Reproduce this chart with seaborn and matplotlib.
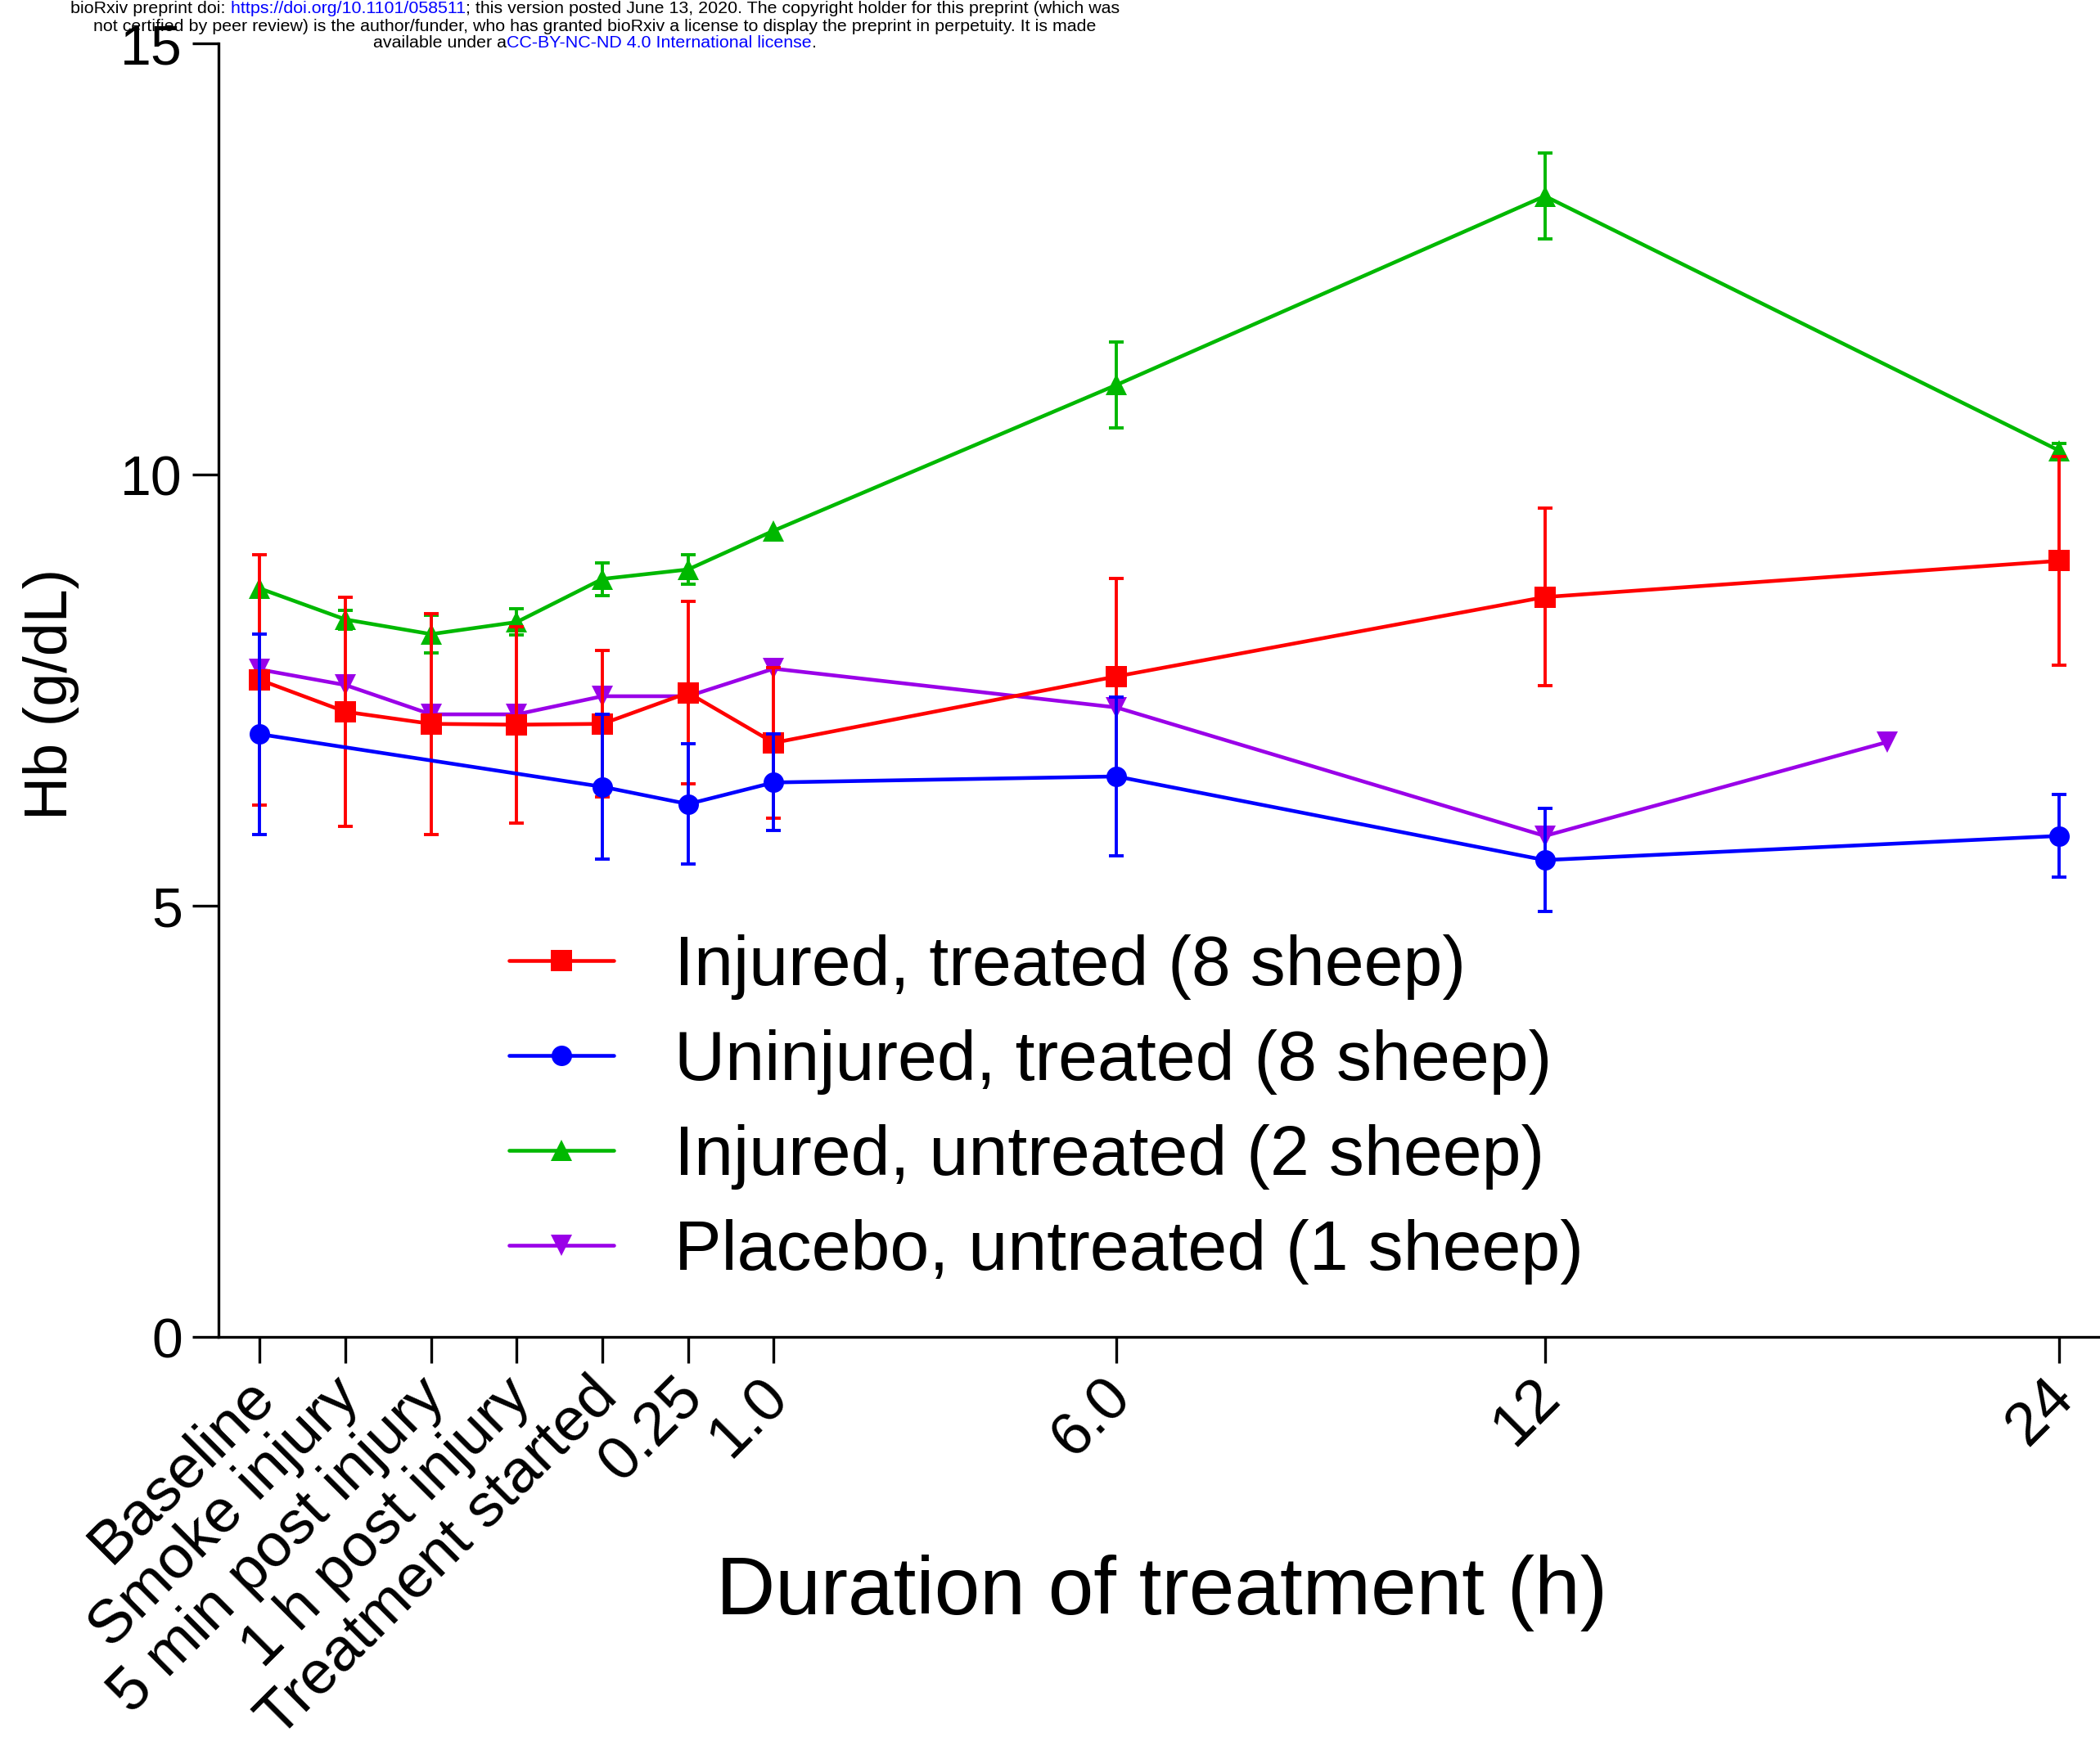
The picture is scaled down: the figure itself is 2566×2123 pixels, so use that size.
import numpy as np
import pandas as pd
import matplotlib
matplotlib.use("Agg")
import matplotlib.pyplot as plt
from matplotlib.transforms import ScaledTranslation
import seaborn as sns

# ---- data: haemoglobin (g/dL), mean and error per time point ----
tick_positions = [0, 1, 2, 3, 4, 5, 6, 10, 15, 21]
tick_labels = ["Baseline", "Smoke injury", "5 min post injury", "1 h post injury",
               "Treatment started", "0.25", "1.0", "6.0", "12", "24"]

injured_treated_x = [0, 1, 2, 3, 4, 5, 6, 10, 15, 21]
injured_treated_mean = [7.62, 7.25, 7.11, 7.10, 7.11, 7.47, 6.89, 7.66, 8.58, 9.00]
injured_treated_err = [1.45, 1.33, 1.28, 1.14, 0.85, 1.06, 0.87, 1.14, 1.03, 1.21]

uninjured_treated_x = [0, 4, 5, 6, 10, 15, 21]
uninjured_treated_mean = [6.99, 6.38, 6.18, 6.43, 6.50, 5.53, 5.81]
uninjured_treated_err = [1.16, 0.84, 0.70, 0.56, 0.92, 0.60, 0.48]

injured_untreated_x = [0, 1, 2, 3, 4, 5, 6, 10, 15, 21]
injured_untreated_mean = [8.68, 8.32, 8.15, 8.29, 8.79, 8.90, 9.35, 11.04, 13.23, 10.28]
injured_untreated_err = [np.nan, 0.11, 0.22, 0.15, 0.19, 0.17, np.nan, 0.50, 0.50, 0.08]

placebo_x = [0, 1, 2, 3, 4, 5, 6, 10, 15, 19]
placebo_mean = [7.74, 7.56, 7.22, 7.22, 7.43, 7.43, 7.75, 7.30, 5.81, 6.90]

series = [
    ("Injured, treated (8 sheep)", injured_treated_x, injured_treated_mean,
     injured_treated_err, "#FF0000", "s", 19, 2.3),
    ("Uninjured, treated (8 sheep)", uninjured_treated_x, uninjured_treated_mean,
     uninjured_treated_err, "#0000FF", "o", 18, 2.4),
    ("Injured, untreated (2 sheep)", injured_untreated_x, injured_untreated_mean,
     injured_untreated_err, "#00B800", "^", 19, 2.1),
    ("Placebo, untreated (1 sheep)", placebo_x, placebo_mean,
     None, "#9A00E8", "v", 19, 2.2),
]

# ---- style ----
sns.set_theme(style="ticks")
plt.rcParams["font.family"] = ["Liberation Sans", "DejaVu Sans"]
plt.rcParams.update({
    "axes.linewidth": 2.4,
    "text.color": "black",
    "axes.labelcolor": "black",
    "xtick.color": "black",
    "ytick.color": "black",
    "axes.edgecolor": "black",
})

W, H = 2566, 2123
fig = plt.figure(figsize=(W / 100, H / 100), dpi=100)
fig.patch.set_facecolor("white")
ax = fig.add_axes([0.1041, 0.2303, 0.8959, 0.7447])
ax.set_facecolor("white")

for name, xs, ys, errs, color, marker, msize, z in series:
    df = pd.DataFrame({"time": xs, "hb": ys})
    if errs is not None:
        ax.errorbar(xs, ys, yerr=errs, fmt="none", ecolor=color,
                    elinewidth=2.8, capsize=6.5, capthick=2.8, zorder=z - 0.05)
    sns.lineplot(data=df, x="time", y="hb", ax=ax, color=color, marker=marker,
                 markersize=msize, markeredgewidth=0, linewidth=3.3,
                 estimator=None, errorbar=None, label=name, zorder=z)

# ---- axes ----
ax.set_xlim(-0.48, 21.48)
ax.set_ylim(0, 15)
ax.set_yticks([0, 5, 10, 15])
ax.set_xticks(tick_positions)
ax.set_xticklabels(tick_labels, rotation=45, ha="right", va="top",
                   rotation_mode="anchor")
ax.tick_params(axis="x", length=23, width=2.4, labelsize=54, pad=4)
ax.tick_params(axis="y", length=23, width=2.4, labelsize=49, pad=9)
shift = ScaledTranslation(-18 / 100, 0, fig.dpi_scale_trans)
for lab in ax.get_xticklabels():
    lab.set_transform(lab.get_transform() + shift)
for side in ("top", "right"):
    ax.spines[side].set_visible(False)
for side in ("left", "bottom"):
    ax.spines[side].set_color("black")
    ax.spines[side].set_linewidth(2.4)

ax.set_xlabel("Duration of treatment (h)", fontsize=72)
ax.xaxis.set_label_coords(0.5015, -0.198)
ax.xaxis.label.set_verticalalignment("center")
ax.set_ylabel("Hb (g/dL)", fontsize=53)
ax.yaxis.set_label_coords(-0.0892, 0.497)
ax.yaxis.label.set_verticalalignment("center")

handles, labels = ax.get_legend_handles_labels()
ax.legend(handles, labels, loc="center left",
          bbox_to_anchor=(622 / W, 1 - 1356 / H), bbox_transform=fig.transFigure,
          frameon=False, fontsize=62, handlelength=1.49, handletextpad=0.85,
          labelspacing=0.42, borderpad=0, borderaxespad=0)

# ---- preprint header ----
header_lines = [
    [("bioRxiv preprint doi:", "black"), (" https://doi.org/10.1101/058511", "#0000FF"),
     ("; this version posted June 13, 2020. The copyright holder for this preprint (which was", "black")],
    [("not certified by peer review) is the author/funder, who has granted bioRxiv a license "
      "to display the preprint in perpetuity. It is made", "black")],
    [("available under a", "black"), ("CC-BY-NC-ND 4.0 International license", "#0000FF"),
     (".", "black")],
]
header_y = [11, 32, 52]
header_center = 727
renderer = fig.canvas.get_renderer()
for parts, ypx in zip(header_lines, header_y):
    texts = [fig.text(0, 1 - ypx / H, s, color=c, fontsize=15.4, ha="left",
                      va="center", zorder=10) for s, c in parts]
    widths = [t.get_window_extent(renderer).width for t in texts]
    x0 = header_center - sum(widths) / 2
    for t, w in zip(texts, widths):
        t.set_x(x0 / W)
        x0 += w

fig.savefig("out.png", dpi=100, facecolor="white")
